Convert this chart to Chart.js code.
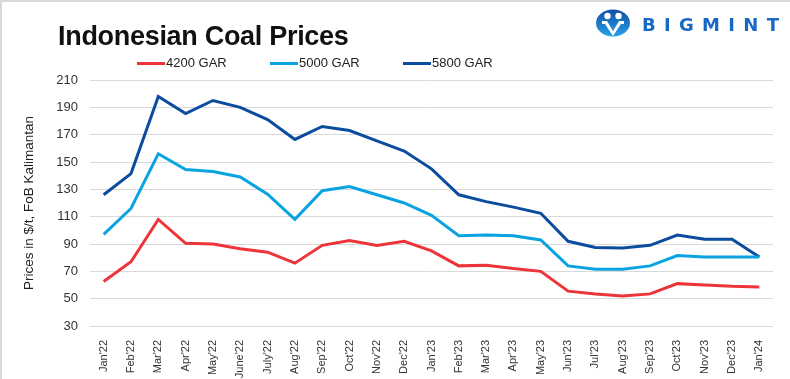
<!DOCTYPE html>
<html>
<head>
<meta charset="utf-8">
<script src="https://cdn.jsdelivr.net/npm/chart.js@4.4.0/dist/chart.umd.min.js"></script>
<style>
    html, body { margin: 0; padding: 0; background: #fff; }
    #marco { position: relative; width: 790px; height: 379px; overflow: hidden; font-family: "Liberation Sans", Arial, sans-serif; }
    #marco canvas { position: absolute; left: 0; top: 0; }
    .borde-top { position: absolute; left: 0; top: 0; width: 790px; height: 2px; background: #d9d9d9; }
    .borde-izq { position: absolute; left: 0; top: 0; width: 2px; height: 379px; background: #d9d9d9; }
    #titulo { position: absolute; left: 58px; top: 23px; font-size: 27px; line-height: 27px; font-weight: bold; color: #111; letter-spacing: -0.3px; white-space: nowrap; }
    #leyenda { position: absolute; left: 137px; top: 55px; display: flex; }
    .item-leyenda { width: 133px; display: flex; align-items: center; font-size: 13px; line-height: 16px; color: #222; }
    .linea-leyenda { width: 28px; height: 3px; margin-right: 1px; }
    #logo { position: absolute; left: 595px; top: 9px; display: flex; align-items: center; }
    #logo .texto { margin-left: 11px; margin-top: 3px; font-size: 18px; font-weight: 900; letter-spacing: 8.3px; color: #1669c4; font-family: "DejaVu Sans", sans-serif; }
</style>
</head>
<body>
<div id="marco">
    <canvas id="grafico" width="790" height="379"></canvas>
    <div class="borde-top"></div>
    <div class="borde-izq"></div>
    <div id="titulo">Indonesian Coal Prices</div>
    <div id="leyenda"></div>
    <div id="logo">
        <svg width="36" height="28" viewBox="0 0 36 28">
            <defs>
                <linearGradient id="gradLogo" x1="0" y1="0" x2="0" y2="1">
                    <stop offset="0" stop-color="#0d4ea6"/>
                    <stop offset="1" stop-color="#2aa0e8"/>
                </linearGradient>
            </defs>
            <ellipse cx="18" cy="14" rx="17" ry="13.5" fill="url(#gradLogo)"/>
            <circle cx="12.5" cy="7" r="3.2" fill="#fff"/>
            <circle cx="23.5" cy="7" r="3.2" fill="#fff"/>
            <path d="M7 12 L12 12 L18 22 L24 12 L29 12 L29 15 L26 15 L18 27 L10 15 L7 15 Z" fill="#fff"/>
        </svg>
        <span class="texto">BIGMINT</span>
    </div>
</div>
<script>
const meses = ["Jan'22", "Feb'22", "Mar'22", "Apr'22", "May'22", "June'22", "July'22", "Aug'22", "Sep'22", "Oct'22", "Nov'22", "Dec'22",
    "Jan'23", "Feb'23", "Mar'23", "Apr'23", "May'23", "Jun'23", "Jul'23", "Aug'23", "Sep'23", "Oct'23", "Nov'23", "Dec'23", "Jan'24"];
const gar4200 = [62.5, 77, 108, 90.5, 90, 86.5, 84, 76, 89, 92.5, 89, 92, 85, 74, 74.5, 72, 70, 55.5, 53.5, 52, 53.5, 61, 60, 59, 58.5];
const gar5000 = [97, 116, 156, 144.5, 143, 139, 126.5, 108, 129, 132, 126, 120, 111, 96, 96.5, 96, 93, 74, 71.5, 71.5, 74, 81.5, 80.5, 80.5, 80.5];
const gar5800 = [126, 141.5, 198, 185.5, 195, 190, 181, 166.5, 176, 173, 165.5, 158, 145, 126, 121, 117, 112.5, 92, 87.5, 87, 89, 96.5, 93.5, 93.5, 80.5];
const nombresSeries = ["4200 GAR", "5000 GAR", "5800 GAR"];
const colores = ["#ec3439", "#0aa3e2", "#0b4c9e"];
const marcasEjeY = [30, 50, 70, 90, 110, 130, 150, 170, 190, 210];

function serie(i, datos) {
    return {
        label: nombresSeries[i],
        data: datos,
        borderColor: colores[i],
        backgroundColor: colores[i],
        borderWidth: 3,
        pointRadius: 0,
        tension: 0,
        fill: false
    };
}

function renderLeyenda(chart) {
    const leyenda = document.getElementById("leyenda");
    leyenda.innerHTML = "";
    chart.data.datasets.forEach((ds) => {
        const item = document.createElement("div");
        item.className = "item-leyenda";

        const linea = document.createElement("span");
        linea.className = "linea-leyenda";
        linea.style.background = ds.borderColor;

        const texto = document.createElement("span");
        texto.textContent = ds.label;

        item.appendChild(linea);
        item.appendChild(texto);
        leyenda.appendChild(item);
    });
}

const grafico = new Chart(document.getElementById("grafico").getContext("2d"), {
    type: "line",
    data: {
        labels: meses,
        datasets: [serie(0, gar4200), serie(1, gar5000), serie(2, gar5800)]
    },
    options: {
        responsive: false,
        animation: false,
        layout: { padding: { top: 80, right: 17, left: 0, bottom: 0 } },
        plugins: {
            legend: { display: false },
            tooltip: { enabled: false }
        },
        scales: {
            x: {
                offset: true,
                grid: { display: false },
                border: { display: false },
                ticks: {
                    autoSkip: false,
                    minRotation: 90,
                    maxRotation: 90,
                    padding: 6,
                    color: "#333",
                    font: { family: "Liberation Sans", size: 11 }
                },
                afterFit: (scale) => { scale.height = 53; }
            },
            y: {
                min: 30,
                max: 210,
                afterBuildTicks: (scale) => { scale.ticks = marcasEjeY.map((v) => ({ value: v })); },
                grid: { color: "#d9d9d9", lineWidth: 1, drawTicks: false },
                border: { display: false },
                ticks: {
                    padding: 12,
                    color: "#333",
                    font: { family: "Liberation Sans", size: 13 }
                },
                title: {
                    display: true,
                    text: "Prices in $/t, FoB Kalimantan",
                    color: "#222",
                    padding: { top: 21, bottom: 0 },
                    font: { family: "Liberation Sans", size: 13.5 }
                },
                afterFit: (scale) => { scale.width = 90; }
            }
        }
    }
});

renderLeyenda(grafico);
</script>
</body>
</html>
